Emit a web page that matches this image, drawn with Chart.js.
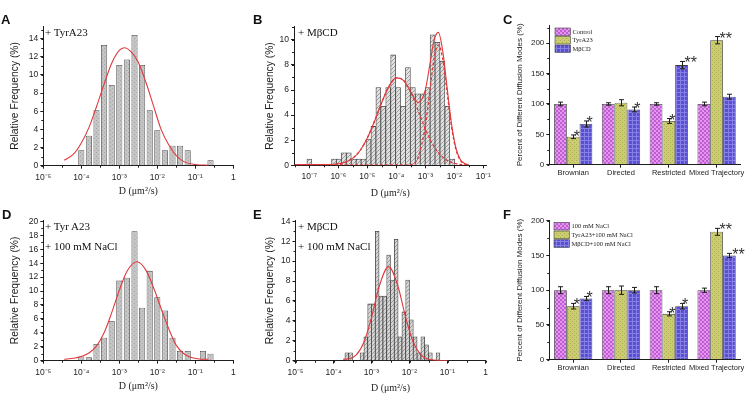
<!DOCTYPE html>
<html>
<head>
<meta charset="utf-8">
<script src="https://cdn.jsdelivr.net/npm/chart.js@4/dist/chart.umd.min.js"></script>
<style>
  html, body { margin: 0; padding: 0; background: #fff; }
  #wrap { position: relative; width: 748px; height: 397px; overflow: hidden; }
  canvas { position: absolute; }
  .lbl { position: absolute; line-height: 1; white-space: nowrap; color: #111; }
  .pl { font: bold 13px "Liberation Sans", Arial, sans-serif; }
  .ins { font: 11px "Liberation Serif", "Times New Roman", serif; }
</style>
</head>
<body>
<div id="wrap">
  <canvas id="cA" width="245" height="199" style="left:0;top:0"></canvas>
  <canvas id="cB" width="255" height="199" style="left:245px;top:0"></canvas>
  <canvas id="cC" width="248" height="199" style="left:500px;top:0"></canvas>
  <canvas id="cD" width="245" height="200" style="left:0;top:197px"></canvas>
  <canvas id="cE" width="255" height="200" style="left:245px;top:197px"></canvas>
  <canvas id="cF" width="248" height="200" style="left:500px;top:197px"></canvas>

  <div class="lbl pl" style="left:1px;top:12px">A</div>
  <div class="lbl pl" style="left:253px;top:11.5px">B</div>
  <div class="lbl pl" style="left:503px;top:12px">C</div>
  <div class="lbl pl" style="left:2px;top:207px">D</div>
  <div class="lbl pl" style="left:253px;top:207px">E</div>
  <div class="lbl pl" style="left:503px;top:206.5px">F</div>

  <div class="lbl ins" style="left:45px;top:26px">+ TyrA23</div>
  <div class="lbl ins" style="left:298px;top:26px">+ MβCD</div>
  <div class="lbl ins" style="left:45px;top:220px">+ Tyr A23</div>
  <div class="lbl ins" style="left:45px;top:239.5px">+ 100 mM NaCl</div>
  <div class="lbl ins" style="left:298px;top:220px">+ MβCD</div>
  <div class="lbl ins" style="left:298px;top:239.5px">+ 100 mM NaCl</div>
</div>

<script>
// ---- data (D is given as log10 of µm²/s) ----
const decadeTicks = [-5, -4, -3, -2, -1, 0];
const decadeTicksB = [-7, -6, -5, -4, -3, -2, -1];

// A: + TyrA23
const aBinD = [-4.0, -3.8, -3.6, -3.4, -3.2, -3.0, -2.8, -2.6, -2.4, -2.2, -2.0, -1.8, -1.6, -1.4, -1.2, -1.0, -0.8, -0.6];
const aFreq = [1.7, 3.3, 6.1, 13.3, 8.9, 11.1, 11.7, 14.4, 11.1, 6.1, 3.9, 1.7, 2.2, 2.2, 1.7, 0, 0, 0.6];
const aFitD = [-4.45, -4.2, -4.0, -3.8, -3.6, -3.4, -3.2, -3.0, -2.87, -2.7, -2.5, -2.3, -2.1, -1.9, -1.7, -1.5, -1.3, -1.0, -0.65];
const aFitF = [0.6, 1.3, 2.5, 4.2, 6.5, 9.0, 11.3, 12.7, 13.0, 12.6, 11.4, 9.2, 6.6, 4.0, 2.3, 1.1, 0.45, 0.14, 0.05];
const aYTicks = [0, 2, 4, 6, 8, 10, 12, 14];

// B: + MbCD
const bBinD = [-7.0, -6.83, -6.66, -6.49, -6.32, -6.15, -5.98, -5.81, -5.64, -5.47, -5.30, -5.13, -4.96, -4.79, -4.62,
               -4.45, -4.28, -4.11, -3.94, -3.77, -3.60, -3.43, -3.26, -3.09, -2.92, -2.75, -2.58, -2.41, -2.24, -2.07];
const bFreq = [0.5, 0, 0, 0, 0, 0.5, 0.5, 1.0, 1.0, 0.5, 0.5, 0.5, 2.1, 3.1, 6.2,
               4.7, 6.2, 8.8, 6.2, 4.7, 7.8, 6.2, 5.7, 5.7, 6.2, 10.4, 9.8, 8.3, 4.7, 0.5];
const bFitD = [-7.5, -7, -6.5, -6, -5.5, -5.25, -5, -4.75, -4.5, -4.25, -4, -3.75, -3.5, -3.25, -3,
               -2.85, -2.7, -2.55, -2.4, -2.25, -2.1, -1.95, -1.8, -1.65, -1.5];
const bFitSum = [0.05, 0.05, 0.06, 0.12, 0.57, 1.18, 2.18, 3.53, 5.03, 6.31, 6.97, 6.77, 5.86, 5.0, 6.02,
                 7.95, 9.96, 10.6, 9.11, 6.21, 3.35, 1.43, 0.49, 0.15, 0.04];
const bFitSlow = [0.03, 0.03, 0.04, 0.09, 0.57, 1.18, 2.18, 3.53, 5.03, 6.31, 6.97, 6.77, 5.80, 4.37, 2.90,
                  2.13, 1.49, 1.0, 0.64, 0.39, 0.23, 0.13, 0.07, 0.04, 0.02];
const bFitFast = [0.03, 0.03, 0.03, 0.03, 0.03, 0.03, 0.03, 0.03, 0.03, 0.03, 0.03, 0.03, 0.06, 0.63, 3.12,
                  5.82, 8.47, 9.6, 8.47, 5.82, 3.12, 1.30, 0.42, 0.11, 0.02];
const bYTicks = [0, 2, 4, 6, 8, 10];

// C: diffusion modes
const modeNames = ['Brownian', 'Directed', 'Restricted', 'Mixed Trajectory'];
const cSeries = ['Control', 'TyrA23', 'MβCD'];
const cControl = [100, 100, 100, 100];
const cTyr = [46, 102, 72, 205];
const cMbcd = [67, 91, 164, 112];
const cControlErr = [3, 2, 2, 3];
const cTyrErr = [3, 5, 4, 6];
const cMbcdErr = [5, 4, 6, 4];
const cTyrStars = ['*', '', '*', '**'];
const cMbcdStars = ['*', '*', '**', ''];
const cYTicks = [0, 50, 100, 150, 200];

// D: + Tyr A23 + 100 mM NaCl
const dBinD = aBinD;
const dFreq = [0.6, 0.5, 2.4, 3.3, 5.7, 11.5, 11.9, 18.6, 7.6, 12.9, 9.1, 7.2, 3.3, 1.4, 1.4, 0, 1.4, 1.0];
const dFitD = [-4.45, -4.2, -4.0, -3.8, -3.6, -3.4, -3.2, -3.0, -2.8, -2.54, -2.3, -2.1, -1.9, -1.7, -1.5, -1.3, -1.1, -0.9, -0.65];
const dFitF = [0.2, 0.35, 0.6, 1.1, 2.1, 4.0, 6.9, 10.1, 12.8, 14.2, 13.0, 10.5, 7.5, 4.6, 2.2, 1.0, 0.45, 0.25, 0.2];
const dYTicks = [0, 2, 4, 6, 8, 10, 12, 14, 16, 18, 20];

// E: + MbCD + 100 mM NaCl
const eBinD = [-3.65, -3.55, -3.45, -3.35, -3.25, -3.15, -3.05, -2.95, -2.85, -2.75, -2.65, -2.55, -2.45, -2.35,
               -2.25, -2.15, -2.05, -1.95, -1.85, -1.75, -1.65, -1.55, -1.45, -1.35, -1.25];
const eFreq = [0.8, 0.8, 0, 0, 0.8, 2.4, 5.7, 5.7, 13.0, 6.5, 6.5, 10.6, 8.1, 12.2,
               2.4, 4.9, 8.1, 4.1, 2.4, 0.8, 2.4, 1.6, 0.8, 0, 0.8];
const eFitD = [-3.75, -3.6, -3.4, -3.2, -3.0, -2.8, -2.55, -2.3, -2.1, -1.9, -1.7, -1.5, -1.3, -1.0];
const eFitF = [0.15, 0.2, 0.58, 1.85, 4.33, 7.43, 9.45, 7.43, 4.33, 1.85, 0.58, 0.15, 0.05, 0.02];
const eYTicks = [0, 2, 4, 6, 8, 10, 12, 14];

// F: diffusion modes with NaCl
const fSeries = ['100 mM NaCl', 'TyrA23+100 mM NaCl', 'MβCD+100 mM NaCl'];
const fNacl = [100, 100, 100, 100];
const fTyr = [77, 100, 66, 184];
const fMbcd = [88, 100, 77, 150];
const fNaclErr = [5, 5, 5, 3];
const fTyrErr = [4, 6, 3, 5];
const fMbcdErr = [3, 4, 4, 3];
const fTyrStars = ['*', '', '*', '**'];
const fMbcdStars = ['*', '', '*', '**'];
const fYTicks = [0, 50, 100, 150, 200];

// ---- helpers ----
const ink = '#1d1d1d';
const sans = "'Liberation Sans', Arial, sans-serif";
const serif = "'Liberation Serif', 'Times New Roman', serif";
const sup = { '-': '⁻', '0': '⁰', '1': '¹', '2': '²', '3': '³', '4': '⁴', '5': '⁵', '6': '⁶', '7': '⁷', '8': '⁸', '9': '⁹' };
const powLabel = v => v === 0 ? '1' : '10' + String(v).split('').map(c => sup[c]).join('');

function pattern(kind, bg, fg) {
  const c = document.createElement('canvas');
  c.width = c.height = 4;
  const g = c.getContext('2d');
  g.fillStyle = bg; g.fillRect(0, 0, 4, 4);
  g.fillStyle = fg; g.strokeStyle = fg; g.lineWidth = 0.8;
  if (kind === 'diag') {
    g.beginPath();
    g.moveTo(0, 4); g.lineTo(4, 0);
    g.moveTo(-1, 1); g.lineTo(1, -1);
    g.moveTo(3, 5); g.lineTo(5, 3);
    g.stroke();
  } else if (kind === 'check') {
    g.fillRect(0, 0, 2, 2); g.fillRect(2, 2, 2, 2);
  } else if (kind === 'dots') {
    g.fillRect(0, 0, 1, 1); g.fillRect(2, 2, 1, 1);
  } else if (kind === 'grid') {
    g.fillRect(0, 0, 4, 1); g.fillRect(0, 0, 1, 4);
  }
  return g.createPattern(c, 'repeat');
}

// where the plot area must sit inside a canvas
function frame(box, area) {
  return {
    padding: { left: 0, top: area[1] - box[1], right: box[0] + box[2] - area[2], bottom: 0 },
    yWidth: area[0] - box[0],
    xHeight: box[1] + box[3] - area[3]
  };
}

function axisBase(size) {
  return {
    bounds: 'data',
    border: { display: true, color: ink, width: 1 },
    grid: { drawOnChartArea: false, drawTicks: true, tickLength: 3, tickColor: ink, tickWidth: 1, offset: false },
    ticks: { color: ink, font: { family: sans, size: size }, padding: 2, autoSkip: false, maxRotation: 0, includeBounds: false }
  };
}

function minorTicks(xStep, yStep) {
  return {
    id: 'minorTicks',
    afterDraw(chart) {
      const { ctx, chartArea: a, scales: { x, y } } = chart;
      ctx.save();
      ctx.strokeStyle = ink; ctx.lineWidth = 1;
      ctx.beginPath();
      if (xStep) {
        for (let v = Math.ceil(x.min / xStep) * xStep; v <= x.max + 1e-9; v += xStep) {
          const p = Math.round(x.getPixelForValue(v)) + 0.5;
          ctx.moveTo(p, a.bottom); ctx.lineTo(p, a.bottom + 2);
        }
      }
      if (yStep) {
        for (let v = 0; v <= y.max + 1e-9; v += yStep) {
          const p = Math.round(y.getPixelForValue(v)) + 0.5;
          ctx.moveTo(a.left, p); ctx.lineTo(a.left - 2, p);
        }
      }
      ctx.stroke();
      ctx.restore();
    }
  };
}

function histogram(id, box, area, o) {
  const f = frame(box, area);
  const datasets = [{
    type: 'bar',
    data: o.bins.map((x, i) => ({ x: x, y: o.freq[i] || null })),
    backgroundColor: o.fill,
    borderColor: '#454545',
    borderWidth: 0.8,
    barPercentage: o.barPct,
    categoryPercentage: 1,
    order: 2
  }].concat(o.fits.map(ft => ({
    type: 'line',
    data: ft.x.map((x, i) => ({ x: x, y: ft.y[i] })),
    borderColor: '#e0393b',
    borderWidth: ft.w || 1.1,
    borderDash: ft.dash || [],
    pointRadius: 0,
    cubicInterpolationMode: 'monotone',
    fill: false,
    order: 1
  })));

  const xAxis = axisBase(8.5);
  Object.assign(xAxis, {
    type: 'linear', min: o.xMin, max: o.xMax, offset: false,
    afterBuildTicks: s => { s.ticks = o.xTicks.map(v => ({ value: v })); },
    afterFit: s => { s.height = f.xHeight; },
    title: { display: true, text: 'D (μm²/s)', color: ink, font: { family: serif, size: 10 }, padding: { top: 0, bottom: o.xTitlePad } }
  });
  xAxis.ticks.callback = v => powLabel(v);
  xAxis.ticks.padding = 3.5;

  const yAxis = axisBase(8.5);
  Object.assign(yAxis, {
    type: 'linear', min: 0, max: o.yMax,
    afterBuildTicks: s => { s.ticks = o.yTicks.map(v => ({ value: v })); },
    afterFit: s => { s.width = f.yWidth; },
    title: { display: true, text: 'Relative Frequency (%)', color: ink, font: { family: sans, size: 10.3 }, padding: { top: o.yTitlePad, bottom: 0 } }
  });

  return new Chart(document.getElementById(id), {
    type: 'bar',
    data: { datasets: datasets },
    options: {
      responsive: false, animation: false, events: [],
      layout: { padding: f.padding },
      plugins: { legend: { display: false }, tooltip: { enabled: false } },
      scales: { x: xAxis, y: yAxis }
    },
    plugins: [minorTicks(0.5, 1)]
  });
}

function errorStars(errs, stars) {
  return {
    id: 'errorStars',
    afterDatasetsDraw(chart) {
      const { ctx, scales: { y } } = chart;
      ctx.save();
      chart.data.datasets.forEach((ds, i) => {
        chart.getDatasetMeta(i).data.forEach((bar, j) => {
          const v = ds.data[j], e = errs[i][j];
          const top = y.getPixelForValue(v + e), bot = y.getPixelForValue(v - e);
          const x = Math.round(bar.x) + 0.5;
          ctx.strokeStyle = ink; ctx.lineWidth = 1;
          ctx.beginPath();
          ctx.moveTo(x, top); ctx.lineTo(x, bot);
          ctx.moveTo(x - 2.5, top); ctx.lineTo(x + 2.5, top);
          ctx.moveTo(x - 2.5, bot); ctx.lineTo(x + 2.5, bot);
          ctx.stroke();
          const s = stars[i][j];
          if (s) {
            ctx.fillStyle = '#333';
            ctx.font = '16px ' + sans;
            ctx.textAlign = 'left';
            ctx.textBaseline = 'alphabetic';
            ctx.fillText(s, bar.x + (s.length > 1 ? 3 : 0.5), top + 7);
          }
        });
      });
      ctx.restore();
    }
  };
}

function boxLegend(dx, dy, step, size) {
  return {
    id: 'boxLegend',
    afterDraw(chart) {
      const { ctx, chartArea: a } = chart;
      ctx.save();
      ctx.font = size + 'px ' + serif;
      ctx.textBaseline = 'middle';
      ctx.textAlign = 'left';
      chart.data.datasets.forEach((ds, i) => {
        const x = a.left + dx, y = a.top + dy + i * step;
        ctx.fillStyle = ds.backgroundColor;
        ctx.fillRect(x, y, 15.5, step - 1);
        ctx.strokeStyle = '#444'; ctx.lineWidth = 0.6;
        ctx.strokeRect(x, y, 15.5, step - 1);
        ctx.fillStyle = ink;
        ctx.fillText(ds.label, x + 17.5, y + (step - 1) / 2 + 0.5);
      });
      ctx.restore();
    }
  };
}

function modesChart(id, box, area, o) {
  const f = frame(box, area);
  const fills = [
    pattern('check', '#c25bd5', '#df98ea'),
    pattern('dots', '#cbcb70', '#aeae52'),
    pattern('grid', '#5a4fd0', '#857fe6')
  ];
  const datasets = o.names.map((name, i) => ({
    label: name,
    data: o.values[i],
    backgroundColor: fills[i],
    borderColor: '#3a3a3a',
    borderWidth: 0.8,
    borderSkipped: 'start',
    barPercentage: 1,
    categoryPercentage: 0.8
  }));

  const xAxis = axisBase(7.5);
  Object.assign(xAxis, {
    type: 'category', offset: true,
    afterFit: s => { s.height = f.xHeight; }
  });
  xAxis.ticks.padding = 1;

  const yAxis = axisBase(8);
  Object.assign(yAxis, {
    type: 'linear', min: 0, max: o.yMax,
    afterBuildTicks: s => { s.ticks = o.yTicks.map(v => ({ value: v })); },
    afterFit: s => { s.width = f.yWidth; },
    title: { display: true, text: 'Percent of Different Diffusion Modes (%)', color: ink, font: { family: sans, size: 8 }, padding: { top: 15.2, bottom: 0 } }
  });

  return new Chart(document.getElementById(id), {
    type: 'bar',
    data: { labels: modeNames, datasets: datasets },
    options: {
      responsive: false, animation: false, events: [],
      layout: { padding: f.padding },
      plugins: { legend: { display: false }, tooltip: { enabled: false } },
      scales: { x: xAxis, y: yAxis }
    },
    plugins: [minorTicks(0, 25), errorStars(o.errors, o.stars), boxLegend(o.legend[0], o.legend[1], o.legend[2], o.legend[3])]
  });
}

// ---- panels ----
histogram('cA', [0, 0, 245, 199], [43.3, 26, 233.3, 165.7], {
  bins: aBinD, freq: aFreq, fill: pattern('dots', '#c4c4c4', '#a6a6a6'), barPct: 0.8,
  fits: [{ x: aFitD, y: aFitF }],
  xMin: -5, xMax: 0, xTicks: decadeTicks, yMax: 15.4, yTicks: aYTicks,
  yTitlePad: 8.8, xTitlePad: 2
});

histogram('cB', [245, 0, 255, 199], [294, 26.7, 486.5, 165.3], {
  bins: bBinD, freq: bFreq, fill: pattern('diag', '#e0e0e0', '#8c8c8c'), barPct: 1,
  fits: [
    { x: bFitD, y: bFitSum, w: 1.1 },
    { x: bFitD, y: bFitSlow, w: 1.3, dash: [3, 2] },
    { x: bFitD, y: bFitFast, w: 1.3, dash: [3, 2] }
  ],
  xMin: -7.53, xMax: -0.89, xTicks: decadeTicksB, yMax: 11.05, yTicks: bYTicks,
  yTitlePad: 18.8, xTitlePad: 0
});

modesChart('cC', [500, 0, 248, 199], [549.3, 25, 740.5, 164.7], {
  names: cSeries, values: [cControl, cTyr, cMbcd],
  errors: [cControlErr, cTyrErr, cMbcdErr], stars: [['', '', '', ''], cTyrStars, cMbcdStars],
  yMax: 230, yTicks: cYTicks, legend: [5.7, 3, 8.5, 6.5]
});

histogram('cD', [0, 197, 245, 200], [43.3, 220, 233.3, 360.7], {
  bins: dBinD, freq: dFreq, fill: pattern('dots', '#c4c4c4', '#a6a6a6'), barPct: 0.8,
  fits: [{ x: dFitD, y: dFitF }],
  xMin: -5, xMax: 0, xTicks: decadeTicks, yMax: 20.2, yTicks: dYTicks,
  yTitlePad: 8.8, xTitlePad: 5
});

histogram('cE', [245, 197, 255, 200], [295.5, 220.3, 485.5, 360.7], {
  bins: eBinD, freq: eFreq, fill: pattern('diag', '#d4d4d4', '#8f8f8f'), barPct: 1,
  fits: [{ x: eFitD, y: eFitF }],
  xMin: -5, xMax: 0, xTicks: decadeTicks, yMax: 14.1, yTicks: eYTicks,
  yTitlePad: 18.8, xTitlePad: 3
});

modesChart('cF', [500, 197, 248, 200], [549.3, 220.7, 740.5, 359.7], {
  names: fSeries, values: [fNacl, fTyr, fMbcd],
  errors: [fNaclErr, fTyrErr, fMbcdErr], stars: [['', '', '', ''], fTyrStars, fMbcdStars],
  yMax: 200, yTicks: fYTicks, legend: [4.7, 1.6, 8.7, 6.5]
});
</script>
</body>
</html>
